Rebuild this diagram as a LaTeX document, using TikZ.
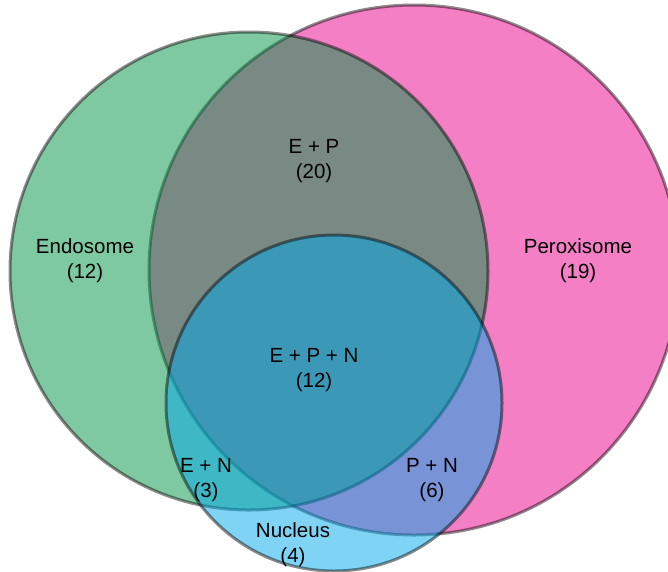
\documentclass[tikz,border=0pt]{standalone}
\usepackage{fontspec}
\setmainfont{Liberation Sans}
\definecolor{endo}{RGB}{0,147,69}
\definecolor{perox}{RGB}{233,0,137}
\definecolor{nucl}{RGB}{0,168,235}
\begin{document}
\begin{tikzpicture}[x=1pt,y=-1pt,
  setcircle/.style={fill=#1, fill opacity=0.5, draw=black, draw opacity=0.45, line width=3pt},
  lbl/.style={align=center, font=\fontsize{20.5}{25}\selectfont, text=black, inner sep=0pt}]
\useasboundingbox (0,0) rectangle (668,571);
\coordinate (cP) at (414,270);
\coordinate (cE) at (249,271);
\coordinate (cN) at (334,403);
\draw[setcircle=perox] (cP) circle[radius=265];
\draw[setcircle=endo] (cE) circle[radius=239];
\draw[setcircle=nucl] (cN) circle[radius=168];
\node[lbl] (endo) at (85,261) {Endosome\\(12)};
\node[lbl] (perox) at (578,261) {Peroxisome\\(19)};
\node[lbl] (ep) at (314,161) {E + P\\(20)};
\node[lbl] (epn) at (314,370) {E + P + N\\(12)};
\node[lbl] (en) at (206,480) {E + N\\(3)};
\node[lbl] (pn) at (432,480) {P + N\\(6)};
\node[lbl] (nuc) at (293,544.5) {Nucleus\\(4)};
\end{tikzpicture}
\end{document}
